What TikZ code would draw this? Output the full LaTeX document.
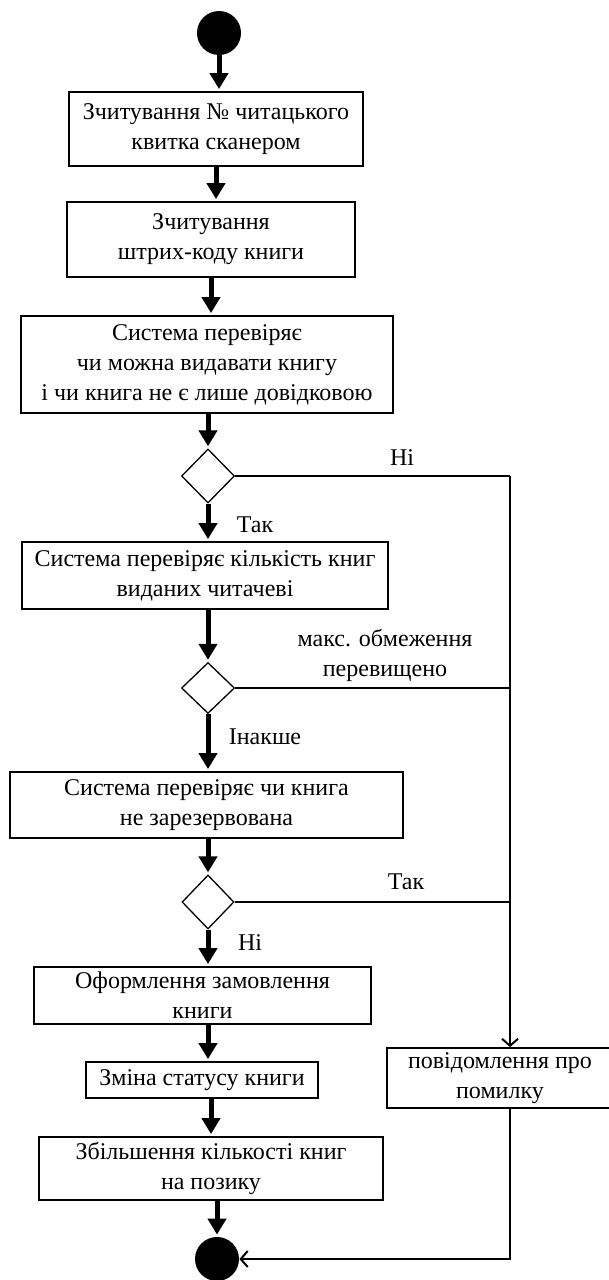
\documentclass[tikz,border=0pt]{standalone}
\usepackage{fontspec}
\setmainfont{Liberation Serif}
\usetikzlibrary{shapes.geometric,arrows.meta}

\begin{document}
\begin{tikzpicture}[x=1pt,y=-1pt,thick,
          box/.style={draw,line width=1.8pt,inner sep=0pt,align=center,%
          font=\fontsize{24}{30}\selectfont},
          cond/.style={draw,diamond,line width=1.3pt,inner sep=0pt},
          dot/.style={fill,circle,inner sep=0pt,minimum size=44pt},
          flow/.style={line width=5pt,-{Triangle[width=18pt,length=16pt]},shorten >=2pt},
          back/.style={line width=2pt},
          lbl/.style={font=\fontsize{24}{30}\selectfont,align=center}]
          \useasboundingbox (0,0) rectangle (608,1280);

          \node[dot] (S) at (219,33) {};
          \node[box,minimum width=294pt,minimum height=74pt] (A) at (216,129)
          {Зчитування № читацького\\квитка сканером};
          \node[box,minimum width=288pt,minimum height=75pt] (B) at (211,239.5)
          {Зчитування\\штрих-коду книги};
          \node[box,minimum width=372pt,minimum height=97pt] (C) at (207,364.5)
          {Система перевіряє\\чи можна видавати книгу\\і чи книга не є лише довідковою};
          \node[cond,minimum width=53pt,minimum height=54pt] (P) at (208,476) {};
          \node[box,minimum width=366pt,minimum height=67pt] (D) at (205,575.5)
          {Система перевіряє кількість книг\\виданих читачеві};
          \node[cond,minimum width=53pt,minimum height=51pt] (Q) at (208,688) {};
          \node[box,minimum width=393pt,minimum height=66pt] (E) at (206.5,805)
          {Система перевіряє чи книга\\не зарезервована};
          \node[cond,minimum width=52pt,minimum height=54pt] (R) at (208,902) {};
          \node[box,minimum width=337pt,minimum height=57pt] (F) at (202.5,995.5)
          {Оформлення замовлення\\книги};
          \node[box,minimum width=232pt,minimum height=36pt] (G) at (202,1080)
          {Зміна статусу книги};
          \node[box,minimum width=344pt,minimum height=63pt] (H) at (211,1168.5)
          {Збільшення кількості книг\\на позику};
          \node[box,minimum width=250pt,minimum height=60pt] (M) at (512,1078)
          {повідомлення про\hspace*{24pt}\\помилку\hspace*{24pt}};
          \node[dot,minimum size=44pt] (T) at (217,1259) {};

          \draw[flow] (S) -- (S |- A.north);
          \draw[flow] (A) -- (A |- B.north);
          \draw[flow] (B) -- (B |- C.north);
          \draw[flow] (C.south -| P) -- (P);
          \draw[flow] (P) -- (P |- D.north);
          \draw[flow] (D.south -| Q) -- (Q);
          \draw[flow] (Q) -- (Q |- E.north);
          \draw[flow] (E.south -| R) -- (R);
          \draw[flow] (R) -- (R |- F.north);
          \draw[flow] (F.south -| R) -- (R |- G.north);
          \draw[flow] (G.south -| H) -- (H.north);
          \draw[flow] (H.south -| T) -- (T);

          \coordinate (K) at (510,476);
          \draw[back] (P.east) -- (K);
          \draw[back] (Q.east) -- (Q.east -| K);
          \draw[back] (R.east) -- (R.east -| K);
          \draw[back,-{Straight Barb[length=7pt,width=16pt]}] (K) -- (K |- M.north);
          \draw[back,-{Straight Barb[length=7pt,width=16pt]}] (K |- M.south) |- (T);

          \node[lbl] (N1) at (402,458) {Ні};
          \node[lbl] (T1) at (255,525) {Так};
          \node[lbl] (L1) at (385,655) {макс. обмеження\\перевищено};
          \node[lbl] (I1) at (265,737) {Інакше};
          \node[lbl] (T2) at (406,882) {Так};
          \node[lbl] (N2) at (250,943) {Ні};

          \end{tikzpicture}
\end{document}
